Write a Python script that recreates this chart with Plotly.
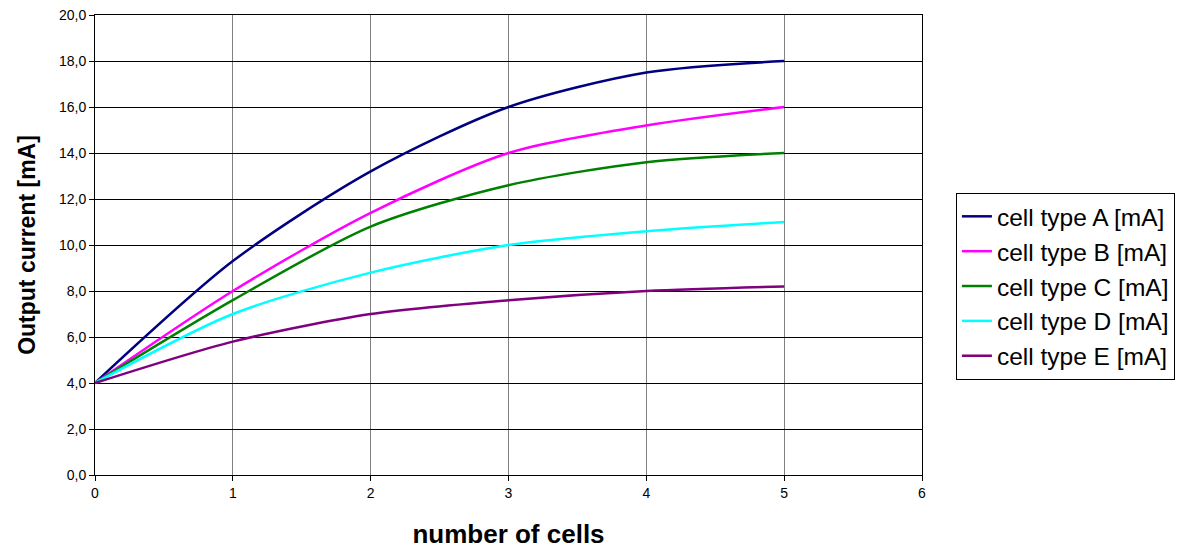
import plotly.graph_objects as go

# Number of cells in series
cells = [0, 1, 2, 3, 4, 5]

# Output current per cell type [mA]
cell_a = [4.0, 9.3, 13.2, 16.0, 17.5, 18.0]
cell_b = [4.0, 8.0, 11.4, 14.0, 15.2, 16.0]
cell_c = [4.0, 7.6, 10.8, 12.6, 13.6, 14.0]
cell_d = [4.0, 7.0, 8.8, 10.0, 10.6, 11.0]
cell_e = [4.0, 5.8, 7.0, 7.6, 8.0, 8.2]

series_names = ["cell type A [mA]", "cell type B [mA]", "cell type C [mA]",
                "cell type D [mA]", "cell type E [mA]"]
series_values = [cell_a, cell_b, cell_c, cell_d, cell_e]
series_colors = ["#000080", "#FF00FF", "#008000", "#00FFFF", "#800080"]

y_ticks = [0, 2, 4, 6, 8, 10, 12, 14, 16, 18, 20]
x_ticks = [0, 1, 2, 3, 4, 5, 6]

fig = go.Figure()
for name, vals, col in zip(series_names, series_values, series_colors):
    fig.add_trace(go.Scatter(
        x=cells, y=vals, name=name, mode="lines",
        line=dict(color=col, width=2.5, shape="spline", smoothing=0.8),
    ))

fig.update_layout(
    width=1192, height=549,
    margin=dict(l=95, r=270, t=15, b=74),
    paper_bgcolor="white", plot_bgcolor="white",
    separators=",.",
    font=dict(family="Arial, 'Liberation Sans', sans-serif", color="black"),
    showlegend=True,
    legend=dict(
        x=1.041, y=0.41, xanchor="left", yanchor="middle",
        bordercolor="black", borderwidth=1, bgcolor="white",
        font=dict(size=24.5, color="black"),
        tracegroupgap=0, itemwidth=30,
    ),
)

fig.update_xaxes(
    range=[0, 6], tickvals=x_ticks, ticktext=[str(v) for v in x_ticks],
    showgrid=True, gridcolor="#808080", gridwidth=1,
    showline=True, linecolor="black", linewidth=1, mirror=True,
    ticks="outside", ticklen=5, tickcolor="black",
    tickfont=dict(size=14), zeroline=False, automargin=False,
    title=dict(text="<b>number of cells</b>", font=dict(size=26), standoff=25),
)
fig.update_yaxes(
    range=[0, 20], tickvals=y_ticks, tickformat=".1f",
    showgrid=True, gridcolor="black", gridwidth=1,
    showline=True, linecolor="black", linewidth=1, mirror=True,
    ticks="outside", ticklen=5, tickcolor="black",
    tickfont=dict(size=14), zeroline=False, automargin=False,
    title=dict(text="<b>Output current [mA]</b>", font=dict(size=23), standoff=16),
)

fig.write_html("out.html")
